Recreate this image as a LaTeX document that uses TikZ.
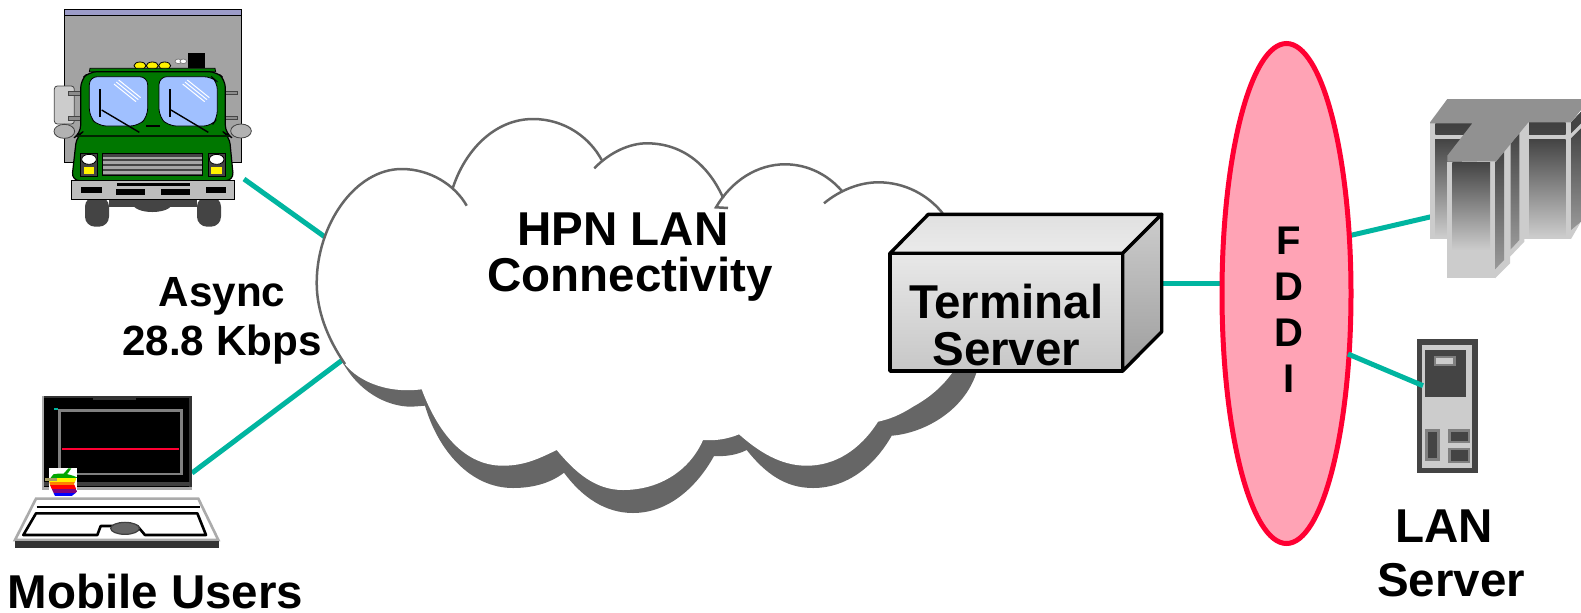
\documentclass[tikz,border=0pt]{standalone}
\usepackage{fontspec}
\setmainfont{Liberation Sans}
\usetikzlibrary{shapes.geometric}
\definecolor{teal1}{HTML}{00B5A0}
\definecolor{cloudgray}{HTML}{666666}
\definecolor{truckgreen}{HTML}{007700}
\definecolor{glass}{HTML}{A0C0FF}
\definecolor{dk}{HTML}{444444}
\definecolor{lt}{HTML}{CCCCCC}
\definecolor{redline}{HTML}{FF0033}
\definecolor{fddifill}{HTML}{FFA3B5}
\tikzset{
  link/.style={draw=teal1,line width=2.5pt},
  zoomed/.style={x=.16667pt,y=-.16667pt},
  biglabel/.style={font=\bfseries\fontsize{23.75}{23.2}\selectfont,align=center,inner sep=0pt},
  midlabel/.style={font=\bfseries\fontsize{21.1}{24.7}\selectfont,align=center,inner sep=0pt},
  cloudline/.style={draw=cloudgray,line width=1.25pt},
  boxline/.style={draw=black,line width=1.7pt,line join=round},
  thinblack/.style={draw=black,line width=.4pt},
}
\begin{document}
\begin{tikzpicture}[x=.5pt,y=-.5pt]
\useasboundingbox (0,0) rectangle (1581,612);
\fill[white] (0,0) rectangle (1581,612);
% named connector ends
\coordinate (truckend) at (244,179);
\coordinate (cloudul) at (325,237);
\coordinate (laptopend) at (192,473);
\coordinate (cloudll) at (345,358);
\coordinate (boxend) at (1160,283);
\coordinate (fddil) at (1225,283);
\coordinate (fddiur) at (1348,236);
\coordinate (mainframe) at (1432,216.5);
\coordinate (fddilr) at (1348,354);
\coordinate (tower) at (1423,385.7);
\draw[link] (truckend) -- (cloudul);
\draw[link] (laptopend) -- (cloudll);
\draw[link] (boxend) -- (fddil);
\draw[link] (fddiur) -- (mainframe);
% cloud shadow
\fill[cloudgray] (343,363) .. controls (358,390) and (385,406.7) .. (411.7,406.7) -- (425,405.7)
 .. controls (438,450) and (470,488) .. (513,488) .. controls (535,488) and (552,482) .. (564,472.7)
 .. controls (582,497) and (605,513) .. (633,513) .. controls (670,513) and (698,485) .. (714,456)
 .. controls (722,456.5) and (735,456) .. (746.7,450) .. controls (765,473) and (785,488) .. (813,488)
 .. controls (848,488) and (875,465) .. (891.7,435.7) .. controls (925,433) and (965,410) .. (976.7,371.7)
 -- (940,300) -- (400,300) -- cycle;
% cloud body
\fill[white] (421.7,389.3) .. controls (385,394) and (355,380) .. (341.7,360) .. controls (325,335) and (316.7,310) .. (316.7,283)
 .. controls (316.7,225) and (355,169) .. (401.7,169) .. controls (425,169) and (442,178) .. (452.7,188.3)
 .. controls (465,150) and (495,119) .. (533,119) .. controls (565,119) and (590,138) .. (601.7,160)
 .. controls (612,152) and (630,143.3) .. (646.7,143.3) .. controls (685,143.3) and (710,168) .. (723.3,198.3)
 .. controls (737,178) and (760,164.3) .. (785,164.3) .. controls (808,164.3) and (828,175) .. (841.7,190.7)
 .. controls (852,185) and (865,182.3) .. (878.3,182.3) .. controls (905,182.3) and (928,195) .. (942.7,213.3)
 .. controls (975,250) and (985,320) .. (953,371.7) .. controls (940,390) and (925,400) .. (913,406.7)
 .. controls (900,415) and (890,419) .. (878,421.7) .. controls (860,450) and (835,465.7) .. (806.7,465.7)
 .. controls (780,465.7) and (758,451) .. (739,434.3) .. controls (728,439) and (715,441) .. (703,440)
 .. controls (690,470) and (660,490) .. (623,490) .. controls (595,490) and (575,472) .. (556.7,450)
 .. controls (540,458) and (525,465.7) .. (503,465.7) .. controls (460,465.7) and (435,425) .. (421.7,389.3) -- cycle;
% cloud outline
\draw[cloudline] (345,364) .. controls (327,338) and (316.7,310) .. (316.7,283) .. controls (316.7,225) and (355,169) .. (401.7,169) .. controls (430,169) and (455,185) .. (466.7,205.7);
\draw[cloudline] (452.7,188.3) .. controls (465,150) and (495,119) .. (533,119) .. controls (565,119) and (590,138) .. (601.7,160);
\draw[cloudline] (594.3,168.3) .. controls (610,152) and (630,143.3) .. (646.7,143.3) .. controls (685,143.3) and (710,168) .. (723.3,198.3);
\draw[cloudline] (728,208) -- (716,207.3) .. controls (732,180) and (758,164.3) .. (785,164.3) .. controls (808,164.3) and (828,175) .. (841.7,190.7);
\draw[cloudline] (824,203.3) .. controls (840,190) and (860,182.3) .. (878.3,182.3) .. controls (905,182.3) and (928,195) .. (942.7,213.3);
\node[biglabel] (cloudtext) at (630,257) {HPN LAN\hspace*{7pt}\\Connectivity};
% terminal server box
\fill[top color=black!12,bottom color=black!8] (890,253.3) -- (928.3,214.3) -- (1161.7,214.3) -- (1122.7,253.3) -- cycle;
\draw[boxline] (890,253.3) -- (928.3,214.3) -- (1161.7,214.3) -- (1122.7,253.3) -- cycle;
\shade[top color=black!20,bottom color=black!38] (1122.7,253.3) -- (1161.7,214.3) -- (1161.7,331.7) -- (1122.7,371) -- cycle;
\draw[boxline] (1122.7,253.3) -- (1161.7,214.3) -- (1161.7,331.7) -- (1122.7,371) -- cycle;
\node[boxline,top color=black!9,bottom color=black!22,minimum width=116.35pt,minimum height=58.85pt,inner sep=0pt] (tserver) at (1006.3,312.2) {};
\node[biglabel] (tservertext) at (1006.3,325) {Terminal\\Server};
% FDDI
\node[ellipse,draw=redline,fill=fddifill,line width=2.5pt,minimum width=64.5pt,minimum height=250pt,inner sep=0pt] (fddi) at (1286.5,293.5) {};
\node[font=\bfseries\fontsize{20}{23}\selectfont,align=center,inner sep=0pt] (fdditext) at (1289,309.5) {F\\D\\D\\I};
% labels
\node[midlabel] (async) at (222,321) {Async\\28.8 Kbps};
\node[biglabel] (mobile) at (155.5,592) {Mobile Users};
\node[biglabel,font=\bfseries\fontsize{23.75}{26.7}\selectfont] (lanserver) at (1451,553.5) {LAN\hspace*{7pt}\\Server};
% truck
\begin{scope}[shift={(40,0)},zoomed]
\filldraw[fill=black!36,thinblack] (73,27) rectangle (604,487);
\filldraw[fill={rgb,255:red,156;green,156;blue,200},thinblack] (73,27) rectangle (604,46);
\fill[black] (444,159) rectangle (495,205);
\filldraw[fill=white,draw=gray] (415,184) circle [x radius=10,y radius=7];
\filldraw[fill=white,draw=gray] (430,184) circle [x radius=10,y radius=7];
\foreach \lx in {300,337,374}{\filldraw[fill=yellow,thinblack] (\lx,197) ellipse [x radius=18,y radius=11];}
\filldraw[fill=lt,draw=dk,line width=.4pt,rounded corners=1.5pt] (43,258) rectangle (103,372);
\foreach \ay in {275,350}{\filldraw[fill=black!45,draw=dk,line width=.3pt] (85,\ay) rectangle (124,\ay+10);}
\foreach \ay in {273,348}{\filldraw[fill=black!45,draw=dk,line width=.3pt] (553,\ay) rectangle (592,\ay+10);}
\filldraw[fill=black!30,draw=dk,line width=.4pt] (73,394) ellipse [x radius=31,y radius=21];
\filldraw[fill=black!30,draw=dk,line width=.4pt] (603,393) ellipse [x radius=31,y radius=21];
\fill[dk,rounded corners=5pt] (135,590) rectangle (207,680);
\fill[dk,rounded corners=5pt] (471,590) rectangle (543,680);
\fill[dk] (207,598) rectangle (471,620);
\fill[dk] (337,612) ellipse [x radius=58,y radius=24];
\filldraw[fill=truckgreen,thinblack] (148,215) -- (150,205) -- (525,205) -- (527,215) -- cycle;
\filldraw[fill=truckgreen,draw=black,line width=.6pt,rounded corners=4pt] (95,542) -- (110,408) -- (122,400) -- (122,240) -- (148,215) -- (530,215) -- (556,240) -- (556,400) -- (568,408) -- (581,542) -- cycle;
\draw[black!70!truckgreen,line width=.6pt] (110,408) -- (568,408);
\filldraw[fill=glass,thinblack,rounded corners=4pt] (148,230) -- (323,230) -- (323,350) -- (295,378) -- (175,378) -- (148,350) -- cycle;
\filldraw[fill=glass,thinblack,rounded corners=4pt] (357,230) -- (515,230) -- (532,245) -- (532,355) -- (515,378) -- (385,378) -- (357,350) -- cycle;
\draw[black,line width=1pt] (180,268) -- (180,352);
\draw[black,line width=1pt] (390,268) -- (390,352);
\draw[black,line width=.7pt] (185,330) -- (298,397);
\draw[black,line width=.7pt] (393,330) -- (505,397);
\draw[black,line width=.8pt] (318,378) -- (360,378);
\foreach \ox in {0,206}{
  \draw[white,line width=.5pt] (222+\ox,252) -- (288+\ox,305);
  \draw[white,line width=.5pt] (229+\ox,246) -- (295+\ox,299);
  \draw[white,line width=.5pt] (236+\ox,240) -- (302+\ox,293);
}
\filldraw[fill=dk,thinblack] (187,461) rectangle (488,527);
\foreach \gy in {470,484,498,514}{\fill[black!35] (189,\gy) rectangle (486,\gy+8);}
\foreach \hx/\hw/\yl/\yr in {122/147/131/163,505/530/513/547}{
  \filldraw[fill=dk,thinblack] (\hx,461) rectangle (\hx+50,529);
  \filldraw[fill=white,thinblack] (\hw,478) ellipse [x radius=22,y radius=15];
  \fill[yellow] (\yl,500) rectangle (\yr,523);
}
\filldraw[fill=black!26,thinblack] (93,542) rectangle (583,598);
\fill[black] (123,560) rectangle (186,578);
\fill[black] (228,567) rectangle (315,585);
\fill[black] (363,567) rectangle (450,585);
\fill[black] (498,560) rectangle (558,578);
\fill[black] (231,548) rectangle (450,558);
\end{scope}
% laptop
\begin{scope}[shift={(0,380)},zoomed]
\fill[black] (125,48) rectangle (575,328);
\draw[black!80,line width=1.2pt] (129,51) -- (571,51) -- (571,320);
\fill[black!80] (280,50) rectangle (408,60);
\draw[black!33,line width=1.3pt] (129,48) -- (129,326) -- (575,326);
\fill[black!75] (133,306) rectangle (571,318);
\draw[black!50,line width=1.2pt] (178,92) rectangle (545,282);
\draw[redline,line width=.9pt] (186,206) -- (537,206);
\draw[teal1,line width=.7pt] (163,87) -- (174,87);
\fill[white] (147,264) rectangle (231,348);
\begin{scope}
\clip (160,283) .. controls (180,278) and (205,280) .. (231,292) -- (222,312) -- (232,335) -- (215,348) -- (165,348) -- (150,315) -- (147,300) -- cycle;
\fill[green!65!black] (147,280) rectangle (231,295);
\fill[yellow] (147,295) rectangle (231,305);
\fill[orange] (147,305) rectangle (231,316);
\fill[red] (147,316) rectangle (231,327);
\fill[violet] (147,327) rectangle (231,340);
\fill[blue] (147,340) rectangle (231,348);
\end{scope}
\fill[green!65!black] (190,282) -- (205,265) -- (214,265) -- (203,281) -- cycle;
\fill[black!35!yellow!60!gray] (135,295) rectangle (170,302);
\filldraw[fill=white,draw=black!33,line width=1.3pt] (108,356) -- (595,356) -- (655,480) -- (45,480) -- cycle;
\fill[black!80] (45,482) rectangle (657,503);
\draw[black,line width=1.1pt] (110,380) -- (600,380);
\draw[black,line width=1.3pt,line join=round] (70,465) -- (108,400) -- (592,400) -- (618,465) -- (435,465) -- (412,438) -- (302,438) -- (292,465) -- cycle;
\filldraw[fill=black!60,draw=black!75,line width=.6pt] (375,445) ellipse [x radius=43,y radius=18];
\end{scope}
% servers
\begin{scope}[shift={(1390,90)},zoomed]
\fill[lt] (120,95) rectangle (260,447);
\shade[top color=dk,bottom color=lt] (135,148) rectangle (215,440);
\shade[top color=black!75,bottom color=dk] (136,100) rectangle (247,132);
\fill[lt] (390,97) rectangle (543,447);
\shade[top color=dk,bottom color=lt] (417,148) rectangle (527,440);
\shade[top color=black!75,bottom color=dk] (417,97) rectangle (527,132);
\fill[lt] (543,97) -- (573,65) -- (573,395) -- (543,447) -- cycle;
\shade[top color=dk,bottom color=black!40] (543,145) -- (573,115) -- (573,395) -- (543,420) -- cycle;
\fill[dk] (543,97) -- (573,65) -- (573,100) -- (543,130) -- cycle;
\fill[lt] (318,215) -- (403,97) -- (403,455) -- (360,500) -- (360,520) -- (315,565) -- cycle;
\shade[top color=dk,bottom color=black!40] (362,160) -- (388,130) -- (388,450) -- (362,478) -- cycle;
\shade[top color=dk,bottom color=black!40] (316,215) -- (342,185) -- (342,510) -- (316,537) -- cycle;
\fill[lt] (172,215) rectangle (316,565);
\shade[top color=dk,bottom color=lt] (187,217) rectangle (300,480);
\fill[lt] (187,480) rectangle (300,565);
\fill[black!43] (120,97) -- (172,27) -- (573,27) -- (573,60) -- (543,97) -- (415,97) -- (318,215) -- (172,215) -- (172,197) -- (247,100) -- (120,100) -- cycle;
\fill[dk] (82,748) rectangle (263,1150);
\fill[lt] (97,765) rectangle (247,1133);
\fill[dk] (106,779) rectangle (227,922);
\fill[black!50] (131,797) rectangle (197,828);
\fill[lt] (138,805) rectangle (190,821);
\fill[black!50] (106,1017) rectangle (150,1113);
\fill[dk] (114,1025) rectangle (142,1105);
\fill[black!50] (175,1017) rectangle (240,1060);
\fill[dk] (183,1025) rectangle (233,1052);
\fill[black!50] (175,1073) rectangle (240,1120);
\fill[dk] (183,1081) rectangle (233,1112);
\end{scope}
\draw[link] (fddilr) -- (tower);
\end{tikzpicture}
\end{document}
